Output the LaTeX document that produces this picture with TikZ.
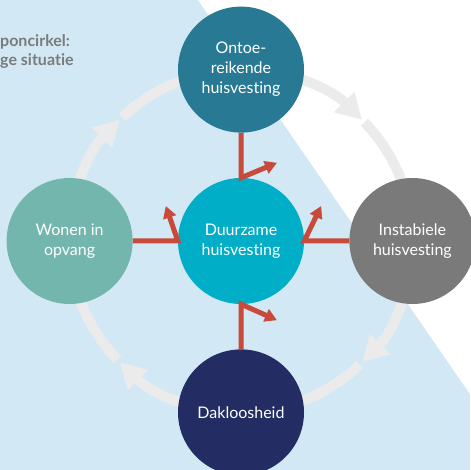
\documentclass[tikz,border=0pt]{standalone}
\usepackage{fontspec}
\setmainfont{Lato}[Ligatures=NoCommon]
\usetikzlibrary{arrows.meta}
\usetikzlibrary{positioning}
\usetikzlibrary{backgrounds}

\definecolor{achtergrond}{HTML}{D2E9F5}
\definecolor{ringgrijs}{HTML}{EBEBEB}
\definecolor{rood}{HTML}{C84A3A}
\definecolor{cyaan}{HTML}{00AEC7}
\definecolor{petrol}{HTML}{287A94}
\definecolor{grijs}{HTML}{7A7A7A}
\definecolor{navy}{HTML}{242D63}
\definecolor{groen}{HTML}{72B6AE}
\definecolor{tekstgrijs}{HTML}{7B7B7B}

\begin{document}
\begin{tikzpicture}[
    x=1pt, y=1pt,
    node distance=45pt,  % ruimte tussen de cirkels
    fase/.style={
        circle,
        minimum size=126pt,
        inner sep=0pt,
        text=white,
        align=center,
        font=\fontsize{16}{20}\selectfont
    },
    ring/.style={
        line width=10pt,
        draw=ringgrijs
    },
    ringpijl/.style={
        ring,
        -{Triangle[length=25pt,width=27pt]}
    },
    terug/.style={
        line width=5pt,
        draw=rood,
        -{Triangle[length=12pt,width=13pt]}
    }
]
    \useasboundingbox (0,0) rectangle (470,470);

    \node (duurzaam) [fase, fill=cyaan] at (241,229) {Duurzame\\huisvesting};
    \node (ontoe) [fase, fill=petrol, above=of duurzaam] {Ontoe-\\reikende\\huisvesting};
    \node (instabiel) [fase, fill=grijs, right=of duurzaam] {Instabiele\\huisvesting};
    \node (dakloos) [fase, fill=navy, below=of duurzaam] {Dakloosheid};
    \node (opvang) [fase, fill=groen, left=of duurzaam] {Wonen in\\opvang};

    \node (titel1) [anchor=base west, inner xsep=0pt, text=tekstgrijs, font=\bfseries\fontsize{16}{20}\selectfont] at (0,423) {poncirkel:};
    \node (titel2) [anchor=base west, inner xsep=0pt, text=tekstgrijs, font=\bfseries\fontsize{16}{20}\selectfont] at (0,404) {ge situatie};

    % achtergrond en kringloop
    \begin{scope}[on background layer]
        \fill[achtergrond] (0,0) rectangle (470,470);
        \fill[white] (198,470) -- (470,470) -- (470,76) -- cycle;
        \draw[ringpijl] (ontoe.center) arc[start angle=90, end angle=45, radius=171pt];
        \draw[ring] (instabiel.center) arc[start angle=0, end angle=44, radius=171pt];
        \draw[ringpijl] (instabiel.center) arc[start angle=0, end angle=-45, radius=171pt];
        \draw[ring] (dakloos.center) arc[start angle=-90, end angle=-46, radius=171pt];
        \draw[ringpijl] (dakloos.center) arc[start angle=-90, end angle=-135, radius=171pt];
        \draw[ring] (opvang.center) arc[start angle=180, end angle=224, radius=171pt];
        \draw[ringpijl] (opvang.center) arc[start angle=180, end angle=135, radius=171pt];
        \draw[ring] (ontoe.center) arc[start angle=90, end angle=134, radius=171pt];
    \end{scope}

    % terugval naar duurzame huisvesting
    \coordinate (tip-boven) at ([shift={(36,15)}]duurzaam.north);
    \coordinate (tip-rechts) at ([shift={(17,35)}]duurzaam.east);
    \coordinate (tip-onder) at ([shift={(36,-16)}]duurzaam.south);
    \coordinate (tip-links) at ([shift={(-12,35)}]duurzaam.west);
    \draw[terug] (ontoe) -- (duurzaam.north) -- (tip-boven);
    \draw[terug] (instabiel) -- (duurzaam.east) -- (tip-rechts);
    \draw[terug] (dakloos) -- (duurzaam.south) -- (tip-onder);
    \draw[terug] (opvang) -- (duurzaam.west) -- (tip-links);
\end{tikzpicture}
\end{document}
